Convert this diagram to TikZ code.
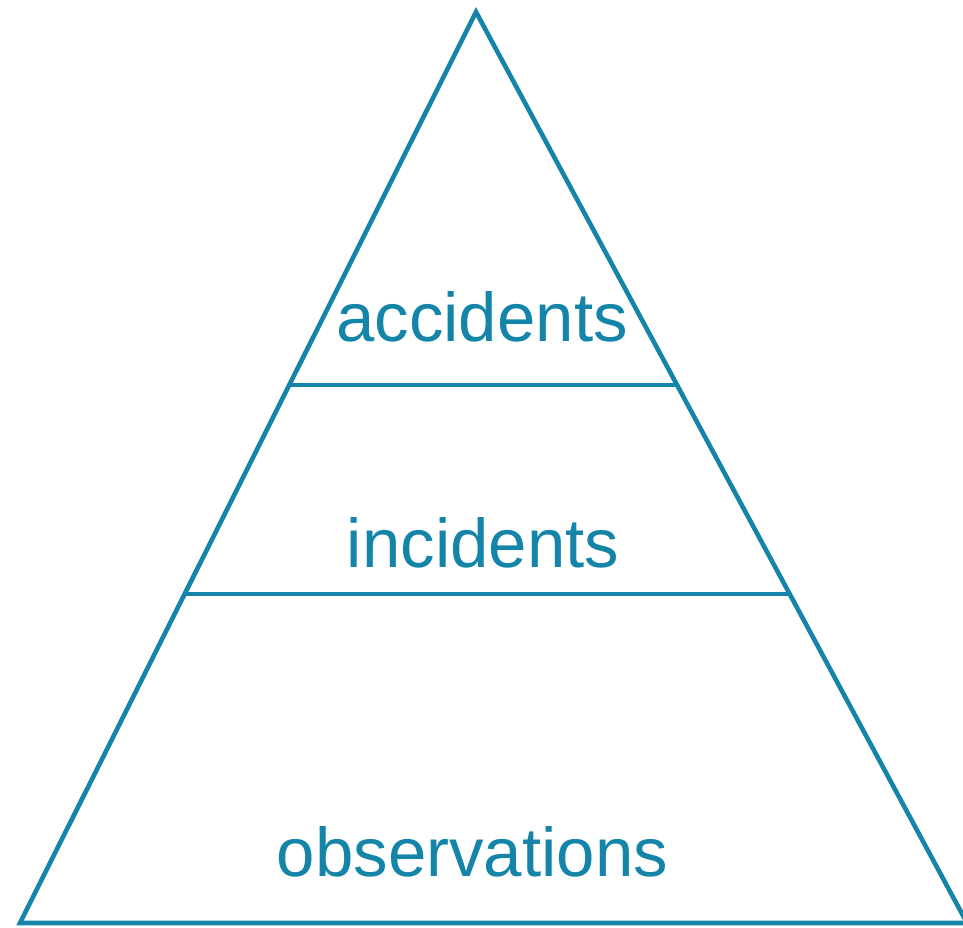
\documentclass[tikz,border=0pt]{standalone}
\usepackage{fontspec}
\setmainfont{Liberation Sans}
\usetikzlibrary{calc}
\definecolor{pyr}{RGB}{20,132,168}
\tikzset{
  edge/.style={draw=pyr, line width=4.6pt},
  level/.style={text=pyr, font=\fontsize{69}{80}\selectfont, anchor=base, inner sep=0pt}
}
\begin{document}
\begin{tikzpicture}[x=1pt,y=1pt]
\useasboundingbox (0,0) rectangle (963,928);
\begin{scope}
\clip (0,0) rectangle (963,928);
\coordinate (apex) at (476,916);
\coordinate (bl) at (20,5);
\coordinate (br) at (967,5);
\draw[edge, line join=miter] (apex) -- (bl) -- (br) -- cycle;
\coordinate (l1) at ($(apex)!0.4094!(bl)$);
\coordinate (r1) at ($(apex)!0.4094!(br)$);
\coordinate (l2) at ($(apex)!0.6389!(bl)$);
\coordinate (r2) at ($(apex)!0.6389!(br)$);
\draw[edge] (l1) -- (r1);
\draw[edge] (l2) -- (r2);
\end{scope}
\node[level] (acc) at (482,586) {accidents};
\node[level] (inc) at (483,360) {incidents};
\node[level] (obs) at (472.5,51) {observations};
\end{tikzpicture}
\end{document}
